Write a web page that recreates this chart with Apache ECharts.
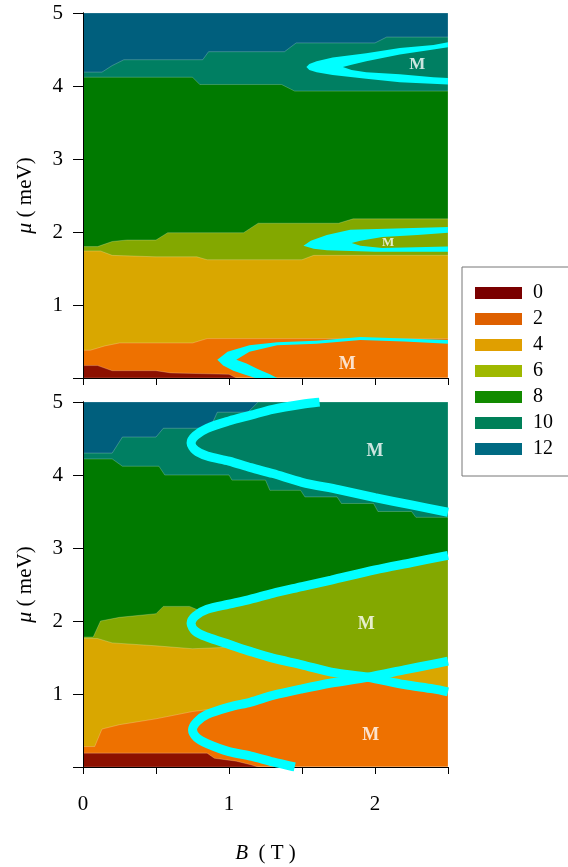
<!DOCTYPE html>
<html>
<head>
<meta charset="utf-8">
<script src="https://cdn.jsdelivr.net/npm/echarts@6/dist/echarts.min.js"></script>
<style>
html, body { margin: 0; padding: 0; background: #fff; }
#chart { width: 568px; height: 867px; }
</style>
</head>
<body>
<div id="chart"></div>
<script>
// phase labels (Chern number / channel count)
var levels = ['0', '2', '4', '6', '8', '10', '12'];
var plotColors = ['#8c1000', '#ee7100', '#d9a700', '#83a800', '#007a00', '#007f62', '#005f7d'];
var legendColors = ['#7a0000', '#de6000', '#e09f00', '#9fb800', '#128a00', '#008058', '#006a82'];

var xTicks = [0, 1, 2];
var topEdge = [[0, 5], [2.5, 5]];

// panel (a): upper edge [B, mu] of each phase
var a0 = [[0, 0.17], [0.1, 0.17], [0.2, 0.1], [0.5, 0.1], [0.6, 0.07], [1.0, 0.05], [1.05, 0], [2.5, 0]];
var a2 = [[0, 0.38], [0.05, 0.38], [0.15, 0.44], [0.25, 0.48], [0.75, 0.48], [0.85, 0.54], [2.5, 0.54]];
var a4 = [[0, 1.74], [0.12, 1.74], [0.2, 1.68], [0.5, 1.66], [0.78, 1.66], [0.85, 1.62], [1.5, 1.62], [1.58, 1.68], [2.5, 1.68]];
var a6 = [[0, 1.8], [0.1, 1.8], [0.2, 1.87], [0.3, 1.89], [0.5, 1.89], [0.58, 1.99], [1.1, 1.99], [1.2, 2.12], [1.75, 2.12], [1.85, 2.18], [2.5, 2.18]];
var a8 = [[0, 4.12], [0.75, 4.12], [0.8, 4.02], [1.36, 4.02], [1.45, 3.93], [2.5, 3.93]];
var a10 = [[0, 4.19], [0.13, 4.19], [0.2, 4.28], [0.28, 4.36], [0.82, 4.36], [0.86, 4.47], [1.38, 4.47], [1.46, 4.59], [2.0, 4.59], [2.08, 4.67], [2.5, 4.67]];

// panel (b)
var b0 = [[0, 0.19], [0.85, 0.19], [0.9, 0.12], [1.05, 0.08], [1.15, 0.03], [1.2, 0], [2.5, 0]];
var b2 = [[0, 0.28], [0.08, 0.28], [0.13, 0.52], [0.25, 0.58], [0.5, 0.66], [0.75, 0.76], [1.0, 0.82], [1.15, 0.89], [1.3, 0.98], [1.5, 1.07], [1.7, 1.15], [1.95, 1.23], [2.2, 1.13], [2.4, 1.07], [2.5, 1.03]];
var b4 = [[0, 1.76], [0.1, 1.76], [0.2, 1.7], [0.5, 1.66], [0.75, 1.62], [1.0, 1.64], [1.15, 1.58], [1.3, 1.49], [1.5, 1.40], [1.7, 1.30], [1.95, 1.23], [2.2, 1.33], [2.4, 1.41], [2.5, 1.45]];
var b6 = [[0, 1.78], [0.07, 1.78], [0.12, 2.0], [0.25, 2.05], [0.5, 2.1], [0.55, 2.2], [0.73, 2.2], [0.8, 2.14], [1.0, 2.23], [1.15, 2.3], [1.3, 2.38], [1.5, 2.47], [1.7, 2.56], [2.0, 2.7], [2.25, 2.8], [2.5, 2.9]];
var b8 = [[0, 4.22], [0.2, 4.22], [0.27, 4.12], [0.52, 4.12], [0.56, 4.0], [1.0, 4.0], [1.02, 3.93], [1.25, 3.93], [1.28, 3.79], [1.49, 3.79], [1.52, 3.7], [1.74, 3.7], [1.77, 3.61], [1.99, 3.61], [2.02, 3.5], [2.25, 3.5], [2.28, 3.42], [2.5, 3.42]];
var b10 = [[0, 4.3], [0.2, 4.3], [0.27, 4.52], [0.5, 4.52], [0.55, 4.64], [0.87, 4.64], [0.92, 4.86], [1.13, 4.86], [1.2, 5.0], [2.5, 5.0]];

// Majorana boundaries, panel (a): outer and inner edge of each crescent
var crescentsA = [
  {
    outer: [[2.5, 4.60], [2.4, 4.56], [2.17, 4.52], [1.94, 4.45], [1.71, 4.39], [1.6, 4.34], [1.55, 4.3], [1.53, 4.26], [1.55, 4.22], [1.6, 4.19], [1.71, 4.15], [1.94, 4.10], [2.17, 4.05], [2.5, 4.02]],
    inner: [[2.5, 4.53], [2.4, 4.50], [2.17, 4.43], [1.94, 4.34], [1.84, 4.29], [1.78, 4.26], [1.84, 4.22], [1.94, 4.19], [2.17, 4.16], [2.4, 4.12], [2.5, 4.11]]
  },
  {
    outer: [[2.5, 2.07], [2.2, 2.05], [1.83, 2.03], [1.67, 1.96], [1.56, 1.88], [1.51, 1.81], [1.58, 1.77], [1.67, 1.75], [2.0, 1.73], [2.5, 1.73]],
    inner: [[2.5, 1.99], [2.29, 1.96], [2.05, 1.93], [1.9, 1.88], [1.84, 1.85], [1.9, 1.81], [2.05, 1.78], [2.5, 1.80]]
  },
  {
    outer: [[2.5, 0.52], [2.2, 0.54], [1.9, 0.56], [1.6, 0.51], [1.33, 0.49], [1.14, 0.45], [0.99, 0.36], [0.92, 0.25], [0.96, 0.17], [1.03, 0.1], [1.1, 0.05], [1.18, 0.0]],
    inner: [[2.5, 0.47], [2.2, 0.50], [1.9, 0.52], [1.6, 0.47], [1.33, 0.45], [1.14, 0.36], [1.05, 0.25], [1.12, 0.2], [1.2, 0.12], [1.28, 0.05], [1.33, 0.0]]
  }
];

// Majorana boundaries, panel (b)
var curveB1 = [[1.62, 5.0], [1.5, 4.97], [1.3, 4.9], [1.15, 4.82], [1.0, 4.74], [0.85, 4.64], [0.77, 4.54], [0.74, 4.44], [0.77, 4.34], [0.85, 4.26], [1.0, 4.19], [1.15, 4.1], [1.3, 4.02], [1.5, 3.9], [1.75, 3.8], [2.0, 3.69], [2.25, 3.59], [2.5, 3.49]];
var curveB2 = [[2.5, 2.9], [2.25, 2.8], [2.0, 2.7], [1.7, 2.56], [1.5, 2.47], [1.3, 2.38], [1.15, 2.3], [1.0, 2.23], [0.85, 2.16], [0.77, 2.07], [0.74, 1.97], [0.77, 1.86], [0.85, 1.78], [1.0, 1.68], [1.15, 1.58], [1.3, 1.49], [1.5, 1.40], [1.7, 1.30], [1.95, 1.23], [2.2, 1.13], [2.4, 1.07], [2.5, 1.03]];
var curveB3 = [[2.5, 1.45], [2.4, 1.41], [2.2, 1.33], [1.95, 1.23], [1.7, 1.15], [1.5, 1.07], [1.3, 0.98], [1.15, 0.89], [1.0, 0.82], [0.85, 0.72], [0.78, 0.62], [0.75, 0.51], [0.78, 0.40], [0.85, 0.32], [1.0, 0.21], [1.15, 0.15], [1.3, 0.07], [1.45, 0.0]];

// "M" annotation positions [B, mu]
var mPointsA = [[2.29, 4.29], [2.09, 1.86], [1.81, 0.19]];
var mPointsB = [[2.0, 4.33], [1.94, 1.96], [1.97, 0.44]];
var mSizesA = [17, 13, 18];
var mSizesB = [18, 18, 18];

var edgesA = [a0, a2, a4, a6, a8, a10, topEdge];
var edgesB = [b0, b2, b4, b6, b8, b10, topEdge];

var serif = '"Liberation Serif", "DejaVu Serif", serif';
var myChart = echarts.init(document.getElementById('chart'));

function bandSeries(i, edge, g) {
    return {
        name: levels[i],
        type: 'custom',
        coordinateSystem: 'cartesian2d',
        xAxisIndex: g,
        yAxisIndex: g,
        z: 2 + (levels.length - i),
        silent: true,
        itemStyle: { color: plotColors[i] },
        data: [[0, 0]],
        renderItem: function (params, api) {
            var pts = edge.map(function (p) { return api.coord(p); });
            pts.push(api.coord([2.5, 0]), api.coord([0, 0]));
            return {
                type: 'polygon', shape: { points: pts },
                style: { fill: plotColors[i], stroke: 'rgba(255,255,255,0.22)', lineWidth: 1 }
            };
        }
    };
}

function crescentSeries(c) {
    return {
        type: 'custom',
        coordinateSystem: 'cartesian2d',
        xAxisIndex: 0,
        yAxisIndex: 0,
        z: 20,
        silent: true,
        data: [[0, 0]],
        renderItem: function (params, api) {
            var pts = c.outer.concat(c.inner.slice().reverse()).map(function (p) { return api.coord(p); });
            return { type: 'polygon', shape: { points: pts }, style: { fill: '#00ffff' } };
        }
    };
}

function curveSeries(d) {
    return {
        type: 'line',
        xAxisIndex: 1,
        yAxisIndex: 1,
        z: 20,
        silent: true,
        symbol: 'none',
        smooth: 0.3,
        data: d,
        lineStyle: { color: '#00ffff', width: 9 }
    };
}

function mSeries(pts, sizes, g) {
    return {
        type: 'scatter',
        xAxisIndex: g,
        yAxisIndex: g,
        z: 30,
        silent: true,
        symbolSize: 0,
        data: pts.map(function (p, k) {
            return { value: p, label: { fontSize: sizes[k] } };
        }),
        label: {
            show: true, position: 'inside', formatter: 'M',
            color: '#fff', fontFamily: serif, fontWeight: 'bold'
        }
    };
}

function xAx(g, labels) {
    return {
        type: 'value', gridIndex: g, min: 0, max: 2.5, interval: 0.5, z: 10,
        axisLine: { lineStyle: { color: '#000', width: 1 } },
        axisTick: { length: 7, lineStyle: { color: '#000' } },
        splitLine: { show: false },
        axisLabel: {
            show: labels, margin: 27, color: '#000', fontFamily: serif, fontSize: 21,
            formatter: function (v) { return xTicks.indexOf(v) >= 0 ? String(v) : ''; }
        },
        name: labels ? '{i|B}  ( T )' : '',
        nameLocation: 'middle',
        nameGap: 76,
        nameTextStyle: {
            color: '#000', fontFamily: serif, fontSize: 21,
            rich: { i: { fontStyle: 'italic', fontFamily: serif, fontSize: 21, color: '#000' } }
        }
    };
}

function yAx(g) {
    return {
        type: 'value', gridIndex: g, min: 0, max: 5, interval: 1, z: 10,
        axisLine: { lineStyle: { color: '#000', width: 1 } },
        axisTick: { length: 10, lineStyle: { color: '#000' } },
        splitLine: { show: false },
        axisLabel: {
            margin: 20, color: '#000', fontFamily: serif, fontSize: 21,
            formatter: function (v) { return v === 0 ? '' : String(v); }
        },
        name: '{i|μ} ( meV)',
        nameLocation: 'middle',
        nameGap: 47,
        nameTextStyle: {
            color: '#000', fontFamily: serif, fontSize: 21,
            rich: { i: { fontStyle: 'italic', fontFamily: serif, fontSize: 22, color: '#000' } }
        }
    };
}

function frameAx(kind, g, pos) {
    var ax = {
        type: 'value', gridIndex: g, position: pos, z: 10,
        axisLine: { lineStyle: { color: '#000', width: 1 } },
        axisTick: { show: false }, axisLabel: { show: false }, splitLine: { show: false }
    };
    if (kind === 'x') { ax.min = 0; ax.max = 2.5; } else { ax.min = 0; ax.max = 5; }
    return ax;
}

var series = [];
for (var i = 0; i < levels.length; i++) {
    series.push(bandSeries(i, edgesA[i], 0));
    series.push(bandSeries(i, edgesB[i], 1));
}
crescentsA.forEach(function (c) { series.push(crescentSeries(c)); });
[curveB1, curveB2, curveB3].forEach(function (d) { series.push(curveSeries(d)); });
series.push(mSeries(mPointsA, mSizesA, 0));
series.push(mSeries(mPointsB, mSizesB, 1));

option = {
    animation: false,
    backgroundColor: '#fff',
    grid: [
        { left: 83, top: 13, width: 365, height: 365 },
        { left: 83, top: 402, width: 365, height: 365 }
    ],
    xAxis: [xAx(0, false), xAx(1, true), frameAx('x', 0, 'top'), frameAx('x', 1, 'top')],
    yAxis: [yAx(0), yAx(1), frameAx('y', 0, 'right'), frameAx('y', 1, 'right')],
    legend: {
        orient: 'vertical',
        left: 462,
        top: 267,
        icon: 'rect',
        itemWidth: 47,
        itemHeight: 12,
        itemGap: 6,
        padding: [16, 40, 17, 13],
        borderColor: '#777',
        borderWidth: 1,
        selectedMode: false,
        textStyle: { color: '#000', fontFamily: serif, fontSize: 20, padding: [0, 0, 0, 6] },
        data: levels.map(function (l, k) {
            return { name: l, itemStyle: { color: legendColors[k] } };
        })
    },
    graphic: [
        { type: 'text', left: 96, top: 31, style: { text: '(a)', fill: '#fff', font: '20px ' + serif } },
        { type: 'text', left: 96, top: 418, style: { text: '(b)', fill: '#fff', font: '20px ' + serif } }
    ],
    series: series
};

myChart.setOption(option);
</script>
</body>
</html>
